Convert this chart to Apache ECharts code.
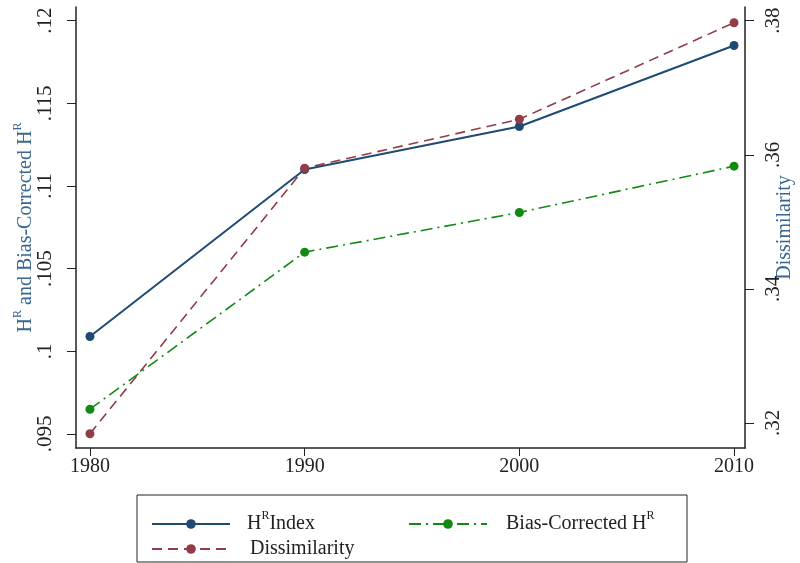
<!DOCTYPE html>
<html>
<head>
<meta charset="utf-8">
<script src="https://cdn.jsdelivr.net/npm/echarts@6/dist/echarts.min.js"></script>
<style>
  html, body { margin: 0; padding: 0; background: #fff; }
  #chart { width: 800px; height: 563px; }
</style>
</head>
<body>
<div id="chart"></div>
<script>
var years = [1980, 1990, 2000, 2010];
var hIndex = [0.1009, 0.1110, 0.1136, 0.1185];
var biasCorrected = [0.0965, 0.1060, 0.1084, 0.1112];
var dissimilarity = [0.3184, 0.3580, 0.3653, 0.3797];
var leftTicks = [0.095, 0.1, 0.105, 0.11, 0.115, 0.12];
var rightTicks = [0.32, 0.34, 0.36, 0.38];

var font = 'Liberation Serif';
var ink = '#222';
var titleBlue = '#3a6691';

function pairs(vals) {
    return years.map(function (y, i) { return [y, vals[i]]; });
}
function dotless(v) {
    return String(v).replace(/^0/, '');
}

var supRich = {
    t: { fontFamily: font, fontSize: 20, color: ink },
    s: { fontFamily: font, fontSize: 12, color: ink, padding: [0, 0, 16, 0] },
    tb: { fontFamily: font, fontSize: 20, color: titleBlue },
    sb: { fontFamily: font, fontSize: 12, color: titleBlue, padding: [0, 0, 16, 0] }
};

var chart = echarts.init(document.getElementById('chart'));

option = {
    animation: false,
    backgroundColor: '#fff',
    grid: { left: 76, right: 55, top: 7, bottom: 115, outerBoundsMode: 'none', containLabel: false },
    xAxis: {
        type: 'value',
        min: 1979.35,
        max: 2010.51,
        axisLine: { show: true, lineStyle: { color: ink, width: 1.5 } },
        axisTick: { show: true, length: 8, customValues: years, lineStyle: { color: ink } },
        axisLabel: {
            customValues: years, margin: 9, fontFamily: font, fontSize: 20, color: ink,
            formatter: function (v) { return String(v); }
        },
        splitLine: { show: false }
    },
    yAxis: [
        {
            type: 'value',
            position: 'left',
            min: 0.094153,
            max: 0.120829,
            axisLine: { show: true, lineStyle: { color: ink, width: 1.5 } },
            axisTick: { show: true, length: 9, customValues: leftTicks, lineStyle: { color: ink } },
            axisLabel: {
                customValues: leftTicks, rotate: 90, margin: 20,
                fontFamily: font, fontSize: 21, color: ink,
                formatter: dotless
            },
            splitLine: { show: false },
            name: '{tb|H}{sb|R}{tb| and Bias-Corrected H}{sb|R}',
            nameLocation: 'middle',
            nameRotate: 90,
            nameGap: 36,
            nameMoveOverlap: false,
            nameTextStyle: { rich: supRich }
        },
        {
            type: 'value',
            position: 'right',
            min: 0.316271,
            max: 0.382043,
            axisLine: { show: true, lineStyle: { color: ink, width: 1.5 } },
            axisTick: { show: true, length: 9, customValues: rightTicks, lineStyle: { color: ink } },
            axisLabel: {
                customValues: rightTicks, rotate: 90, margin: 18,
                fontFamily: font, fontSize: 21, color: ink,
                formatter: dotless
            },
            splitLine: { show: false },
            name: 'Dissimilarity',
            nameLocation: 'middle',
            nameRotate: 90,
            nameGap: 30,
            nameMoveOverlap: false,
            nameTextStyle: { fontFamily: font, fontSize: 20, color: titleBlue }
        }
    ],
    legend: [
        {
            data: ['H Index'], left: 146, top: 505, itemWidth: 78, itemHeight: 12,
            formatter: function () { return '{t|H}{s|R}{t|Index}'; },
            textStyle: { rich: supRich, padding: [0, 0, 0, 12] }
        },
        {
            data: ['Bias-Corrected H'], left: 403, top: 505, itemWidth: 78, itemHeight: 12,
            formatter: function () { return '{t|Bias-Corrected H}{s|R}'; },
            textStyle: { rich: supRich, padding: [0, 0, 0, 14] }
        },
        {
            data: ['Dissimilarity'], left: 146, top: 534, itemWidth: 78, itemHeight: 12,
            textStyle: { fontFamily: font, fontSize: 20, color: ink, padding: [0, 0, 0, 15] }
        }
    ],
    graphic: [{
        type: 'rect',
        shape: { x: 137, y: 495, width: 550, height: 67 },
        style: { fill: 'none', stroke: ink, lineWidth: 1 },
        silent: true
    }],
    series: [
        {
            name: 'H Index',
            type: 'line',
            yAxisIndex: 0,
            data: pairs(hIndex),
            symbol: 'circle',
            symbolSize: 9,
            color: '#1f4a73',
            lineStyle: { width: 2, color: '#1f4a73' }
        },
        {
            name: 'Dissimilarity',
            type: 'line',
            yAxisIndex: 1,
            data: pairs(dissimilarity),
            symbol: 'circle',
            symbolSize: 9,
            color: '#923c47',
            lineStyle: { width: 1.6, color: '#923c47', type: [10, 6] }
        },
        {
            name: 'Bias-Corrected H',
            type: 'line',
            yAxisIndex: 0,
            data: pairs(biasCorrected),
            symbol: 'circle',
            symbolSize: 9,
            color: '#128a12',
            lineStyle: { width: 1.6, color: '#128a12', type: [12, 5, 2, 5] }
        }
    ]
};

chart.setOption(option);
</script>
</body>
</html>
